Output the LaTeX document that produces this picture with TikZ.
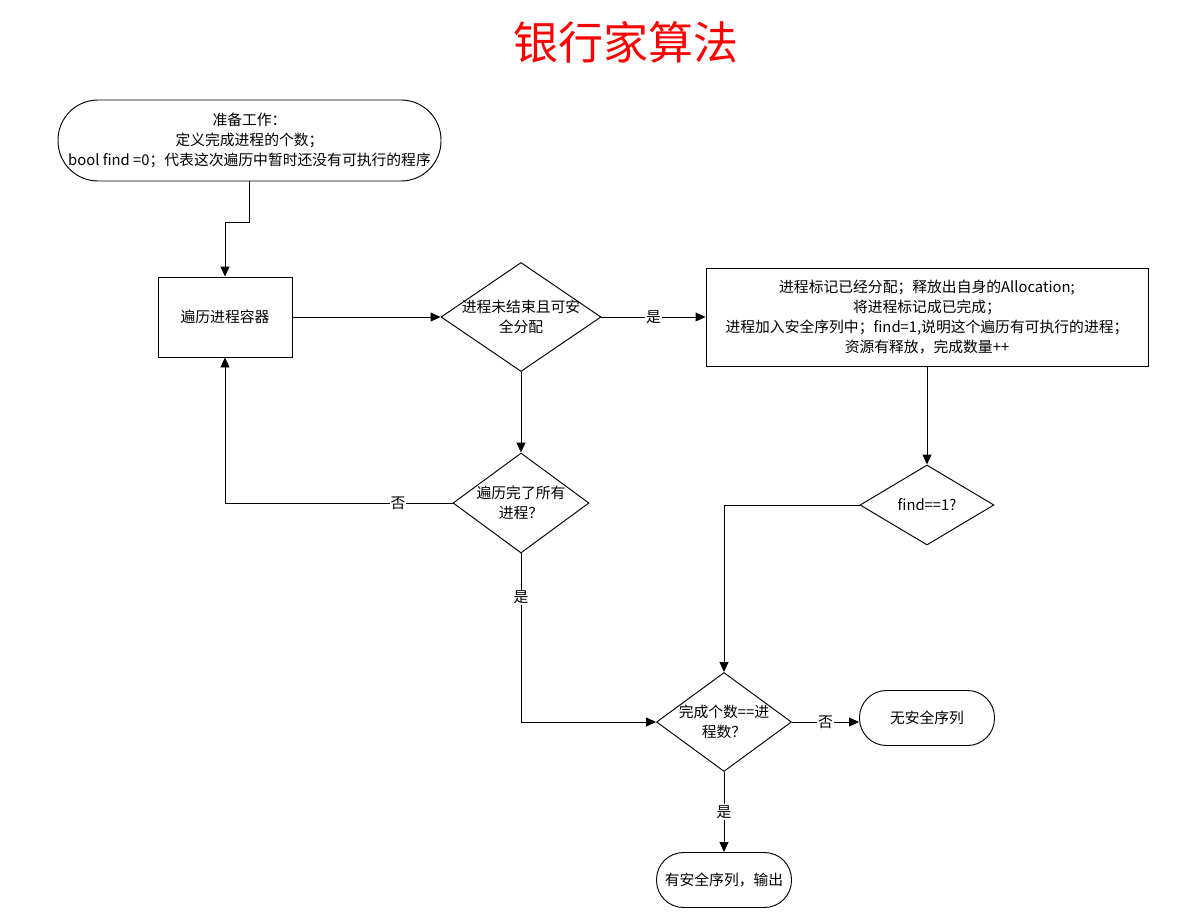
\documentclass[tikz,border=0pt]{standalone}
\usepackage{fontspec}
\setmainfont{Noto Sans CJK SC}
\usetikzlibrary{shapes.geometric,arrows.meta,calc}

\tikzset{
  terminal/.style={draw, rectangle, rounded corners=27pt, minimum width=135pt, minimum height=55pt, align=center},
  process/.style={draw, rectangle, align=center},
  decision/.style={draw, diamond, inner sep=0pt},
  arr/.style={-{Triangle[length=10pt,width=9pt]}},
  lbl/.style={fill=white, inner sep=1pt}
}

\begin{document}
\begin{tikzpicture}[x=1pt, y=-1pt, line width=0.95pt, every node/.style={font=\fontsize{14.8}{20}\selectfont}]
    \useasboundingbox (0,0) rectangle (1195,924);

    \node (title) at (626,42) [text=red, font=\fontsize{45}{54}\selectfont] {银行家算法};

    \node (start) at (249.5,140.5) [terminal, rounded corners=40pt, minimum width=383pt, minimum height=81pt]
        {准备工作：\\定义完成进程的个数；\\bool find =0；代表这次遍历中暂时还没有可执行的程序};
    \node (loop) at (225,317) [process, minimum width=134pt, minimum height=80pt] {遍历进程容器};
    \node (d1) at (521,317) [decision, minimum width=160pt, minimum height=109pt,
        label={[align=center]center:进程未结束且可安\\全分配}] {};
    \node (mark) at (927,317) [process, minimum width=442pt, minimum height=98pt]
        {进程标记已经分配；释放出自身的Allocation;\\将进程标记成已完成；\\进程加入安全序列中；find=1,说明这个遍历有可执行的进程；\\资源有释放，完成数量++};
    \node (d2) at (521,503) [decision, minimum width=136pt, minimum height=100pt,
        label={[align=center]center:遍历完了所有\\进程？}] {};
    \node (d3) at (927,505) [decision, minimum width=134pt, minimum height=80pt,
        label={center:find==1?}] {};
    \node (d4) at (724,722) [decision, minimum width=135pt, minimum height=99pt,
        label={[align=center]center:完成个数==进\\程数？}] {};
    \node (nosafe) at (927,718) [terminal] {无安全序列};
    \node (safe) at (724,880) [terminal] {有安全序列，输出};

    \draw [arr] (start.south) -- ++(0,41) -| (loop.north);
    \draw [arr] (loop.east) -- (d1.west);
    \draw [arr] (d1.east) -- node [lbl] {是} (mark.west);
    \draw [arr] (d1.south) -- (d2.north);
    \draw [arr] (d2.west) -| node [lbl, pos=0.12] {否} (loop.south);
    \draw [arr] (d2.south) |- node [lbl, pos=0.13] {是} (d4.west);
    \draw [arr] (mark.south) -- (d3.north);
    \draw [arr] (d3.west) -| (d4.north);
    \draw [arr] (d4.east) -- node [lbl] {否} (d4.east -| nosafe.west);
    \draw [arr] (d4.south) -- node [lbl] {是} (safe.north);

\end{tikzpicture}
\end{document}
